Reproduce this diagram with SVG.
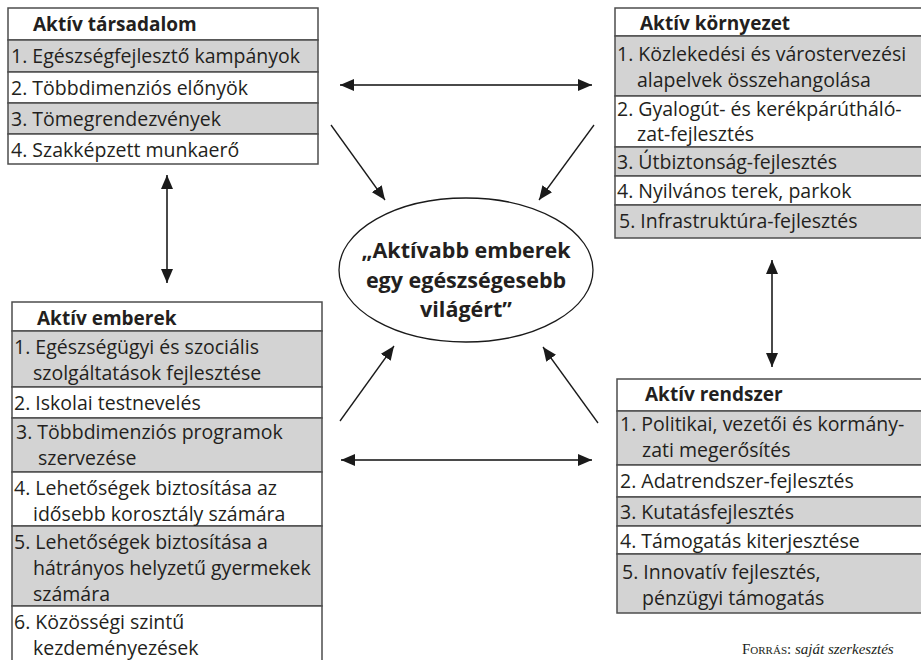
<svg xmlns="http://www.w3.org/2000/svg" width="921" height="660" viewBox="0 0 921 660">
<style>
.g{fill:#d3d3d3;stroke:#4d4d4d;stroke-width:1.5}
.w{fill:#ffffff;stroke:#4d4d4d;stroke-width:1.5}
.t{font-family:"Open Sans","Liberation Sans",sans-serif;font-size:19.5px;fill:#231f20}
.h{font-family:"Open Sans","Liberation Sans",sans-serif;font-size:19px;font-weight:bold;fill:#231f20}
.c{font-family:"Open Sans","Liberation Sans",sans-serif;font-size:21.5px;font-weight:bold;fill:#231f20;text-anchor:middle}
.a1{stroke:#4a4a4a;stroke-width:2;fill:none}
.a2{stroke:#1a1a1a;stroke-width:1.3;fill:none}
.src{font-family:"Liberation Serif",serif;font-size:15px;fill:#231f20}
</style>
<defs>
<marker id="ah" markerUnits="userSpaceOnUse" viewBox="0 0 14 12" refX="14" refY="6" markerWidth="14" markerHeight="12" orient="auto-start-reverse">
<path d="M0,0 L14,6 L0,12 Z" fill="#1a1a1a"/>
</marker>
</defs>

<g id="node-tarsadalom">
<rect class="w" x="8" y="8" width="310" height="32"/>
<rect class="g" x="8" y="40" width="310" height="32"/>
<rect class="w" x="8" y="72" width="310" height="31"/>
<rect class="g" x="8" y="103" width="310" height="31"/>
<rect class="w" x="8" y="134" width="310" height="30"/>
<text class="h" x="33" y="31">Aktív társadalom</text>
<text class="t" x="11" y="63">1. Egészségfejlesztő kampányok</text>
<text class="t" x="11" y="95">2. Többdimenziós előnyök</text>
<text class="t" x="11" y="126">3. Tömegrendezvények</text>
<text class="t" x="11" y="157">4. Szakképzett munkaerő</text>
</g>

<g id="node-kornyezet">
<rect class="w" x="615" y="8" width="312" height="28"/>
<rect class="g" x="615" y="36" width="312" height="60"/>
<rect class="w" x="615" y="96" width="312" height="51"/>
<rect class="g" x="615" y="147" width="312" height="29"/>
<rect class="w" x="615" y="176" width="312" height="29"/>
<rect class="g" x="615" y="205" width="312" height="33"/>
<text class="h" x="640" y="30">Aktív környezet</text>
<text class="t" x="617" y="61">1. Közlekedési és várostervezési</text>
<text class="t" x="637" y="87">alapelvek összehangolása</text>
<text class="t" x="617" y="116">2. Gyalogút- és kerékpárútháló-</text>
<text class="t" x="637" y="141">zat-fejlesztés</text>
<text class="t" x="617" y="169">3. Útbiztonság-fejlesztés</text>
<text class="t" x="617" y="198">4. Nyilvános terek, parkok</text>
<text class="t" x="619" y="228">5. Infrastruktúra-fejlesztés</text>
</g>

<g id="node-emberek">
<rect class="w" x="12" y="302" width="310" height="29"/>
<rect class="g" x="12" y="331" width="310" height="56"/>
<rect class="w" x="12" y="387" width="310" height="31"/>
<rect class="g" x="12" y="418" width="310" height="54"/>
<rect class="w" x="12" y="472" width="310" height="54"/>
<rect class="g" x="12" y="526" width="310" height="80"/>
<rect class="w" x="12" y="606" width="310" height="60"/>
<text class="h" x="37" y="325">Aktív emberek</text>
<text class="t" x="14" y="354">1. Egészségügyi és szociális</text>
<text class="t" x="33" y="380">szolgáltatások fejlesztése</text>
<text class="t" x="14" y="410">2. Iskolai testnevelés</text>
<text class="t" x="16" y="439">3. Többdimenziós programok</text>
<text class="t" x="38" y="465">szervezése</text>
<text class="t" x="14" y="495">4. Lehetőségek biztosítása az</text>
<text class="t" x="33" y="521">idősebb korosztály számára</text>
<text class="t" x="14" y="549">5. Lehetőségek biztosítása a</text>
<text class="t" x="33" y="575">hátrányos helyzetű gyermekek</text>
<text class="t" x="33" y="601">számára</text>
<text class="t" x="14" y="629">6. Közösségi szintű</text>
<text class="t" x="33" y="655">kezdeményezések</text>
</g>

<g id="node-rendszer">
<rect class="w" x="617" y="379" width="310" height="32"/>
<rect class="g" x="617" y="411" width="310" height="54"/>
<rect class="w" x="617" y="465" width="310" height="32"/>
<rect class="g" x="617" y="497" width="310" height="29"/>
<rect class="w" x="617" y="526" width="310" height="28"/>
<rect class="g" x="617" y="554" width="310" height="59"/>
<text class="h" x="645" y="401">Aktív rendszer</text>
<text class="t" x="620" y="431">1. Politikai, vezetői és kormány-</text>
<text class="t" x="642" y="457">zati megerősítés</text>
<text class="t" x="620" y="488">2. Adatrendszer-fejlesztés</text>
<text class="t" x="620" y="519">3. Kutatásfejlesztés</text>
<text class="t" x="620" y="548">4. Támogatás kiterjesztése</text>
<text class="t" x="622" y="579">5. Innovatív fejlesztés,</text>
<text class="t" x="642" y="605">pénzügyi támogatás</text>
</g>

<g id="node-center">
<ellipse cx="466" cy="270" rx="127" ry="72" fill="#ffffff" stroke="#1a1a1a" stroke-width="1.3"/>
<text class="c" x="466" y="258">„Aktívabb emberek</text>
<text class="c" x="466" y="288">egy egészségesebb</text>
<text class="c" x="466" y="317">világért”</text>
</g>

<g id="connectors">
<line class="a1" x1="340" y1="85" x2="592" y2="85" marker-start="url(#ah)" marker-end="url(#ah)"/>
<line class="a1" x1="341" y1="460" x2="592" y2="460" marker-start="url(#ah)" marker-end="url(#ah)"/>
<line class="a1" x1="167" y1="175" x2="167" y2="283" marker-start="url(#ah)" marker-end="url(#ah)"/>
<line class="a1" x1="772" y1="260" x2="772" y2="367" marker-start="url(#ah)" marker-end="url(#ah)"/>
<line class="a2" x1="331" y1="125" x2="385" y2="200" marker-end="url(#ah)"/>
<line class="a2" x1="594" y1="125" x2="539" y2="200" marker-end="url(#ah)"/>
<line class="a2" x1="340" y1="421" x2="394" y2="346" marker-end="url(#ah)"/>
<line class="a2" x1="598" y1="423" x2="543" y2="347" marker-end="url(#ah)"/>
</g>

<text class="src" x="742" y="654"><tspan font-variant="small-caps">Forrás:</tspan> <tspan font-style="italic">saját szerkesztés</tspan></text>
</svg>
